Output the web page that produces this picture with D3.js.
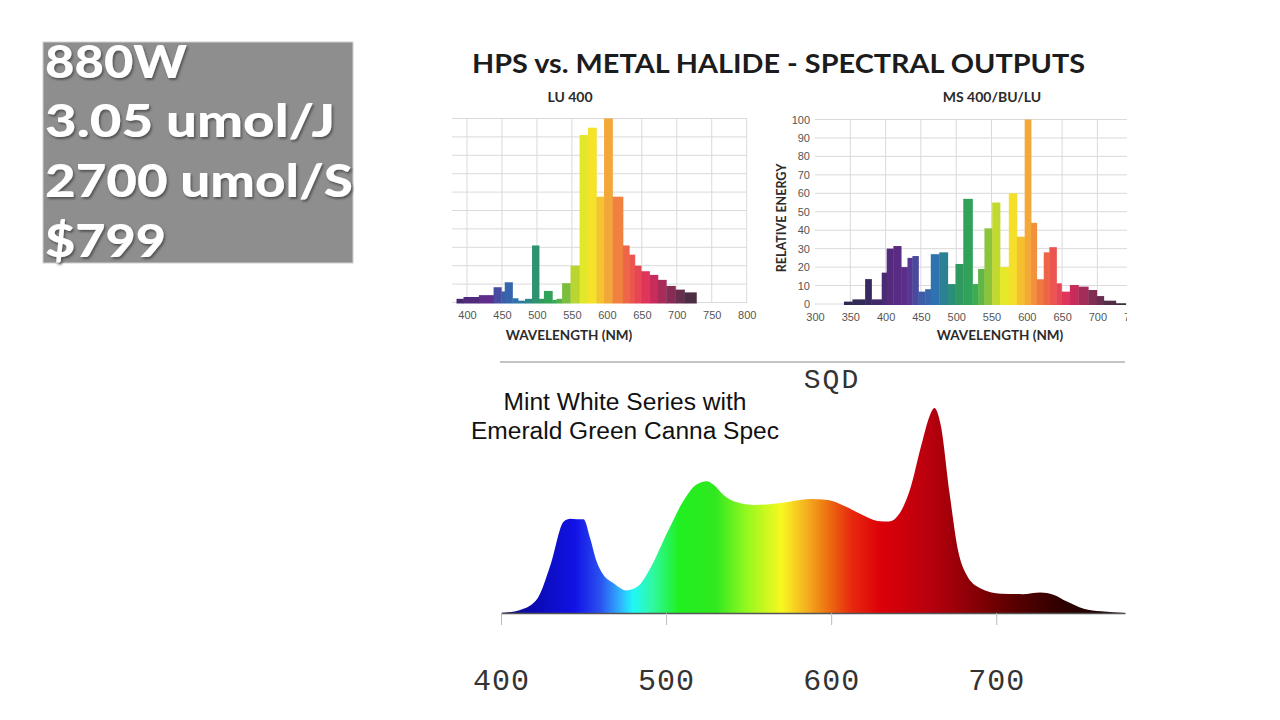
<!DOCTYPE html>
<html>
<head>
<meta charset="utf-8">
<script src="https://cdn.jsdelivr.net/npm/d3@7"></script>
<style>
  html, body { margin: 0; padding: 0; background: #fff; }
  svg { display: block; }
</style>
</head>
<body>
<svg width="1280" height="720"></svg>
<script>
// Spec box lines
const specLines = ["880W", "3.05 umol/J", "2700 umol/S", "$799"];

// LU 400 (HPS) bars: bin edges (nm) and relative energy
const luEdges = [385, 395, 417, 438, 449, 454, 465, 473, 483, 493, 503, 510, 522, 528, 536, 548, 561, 573, 585, 596, 608, 623, 632, 640, 649, 661, 673, 685, 698, 711, 728];
const luValues = [2, 3, 4, 8.3, 6, 11, 2.3, 1, 2, 31, 2, 6.3, 1.4, 2, 10.5, 20, 91, 95, 57.5, 100, 57.5, 31, 26, 20, 17, 15, 12.3, 9, 7, 5.5];
const luTicks = [400, 450, 500, 550, 600, 650, 700, 750, 800];

// MS 400/BU/LU (metal halide) bars
const msEdges = [341, 353, 371, 380, 394.5, 401.5, 411, 422, 431, 438, 446.5, 456, 464, 476, 488, 499, 510, 523, 531, 540, 551, 562, 574.5, 586, 597, 606, 614, 624, 632, 642, 649, 661, 673, 687, 699, 709, 726, 740];
const msValues = [1.3, 2.5, 13.5, 2.5, 17, 30, 31.4, 20, 25, 26, 6.7, 8, 27, 28, 10.8, 21.7, 57, 10.8, 19, 41, 55, 20, 60, 36.5, 100, 44, 13.4, 28, 30.8, 11.2, 6.7, 10.3, 9.4, 7.6, 4.3, 1.8, 0.4];
const msXTicks = [300, 350, 400, 450, 500, 550, 600, 650, 700, 750];
const msYTicks = [0, 10, 20, 30, 40, 50, 60, 70, 80, 90, 100];

// SQD curve (LED), relative intensity
const sqdNm = [400, 412, 422, 430, 438, 442, 446, 450, 454, 458, 462, 468, 476, 483, 490.5, 501, 511.5, 518, 524.7, 528.6, 535, 543, 553.5, 564, 574.5, 587.7, 598, 608.7, 619, 628, 635, 641.5, 648, 654.6, 659.8, 662.5, 666.4, 671.6, 677, 682, 690, 703, 716, 726.8, 734.6, 742.5, 753, 763.5, 778];
const sqdValues = [0, 1.6, 7, 23.5, 44.6, 46, 45.7, 45.7, 36.5, 25, 18.6, 14.6, 11, 13, 21.9, 39.7, 56, 62.4, 64.3, 62.7, 57.5, 54, 52.7, 53.2, 54.3, 55.6, 55.1, 51.9, 47.8, 44.9, 44.6, 48.6, 60.8, 81.8, 96.4, 100, 91.6, 59.2, 30, 18.6, 12.2, 9.4, 9.2, 10, 8.9, 5.7, 2.1, 0.8, 0];
const sqdTicks = [400, 500, 600, 700];

// colour ramps
const barStopNm = [340, 380, 410, 430, 450, 470, 490, 505, 525, 545, 560, 575, 590, 605, 620, 640, 660, 680, 700, 730];
const barStopCol = ["#2a2a4e", "#3a2a62", "#562a80", "#5e2e8c", "#3e5aaa", "#2f72b0", "#2a8a80", "#2f9a5e", "#33a855", "#88c23a", "#d4e02c", "#f5ee28", "#f5c42e", "#f2a03a", "#ef7440", "#ea4e52", "#dc2c5c", "#a42c5a", "#6e2e50", "#3c2c3e"];
const sqdStopNm = [400, 420, 445, 460, 472, 480, 492, 508, 530, 548, 570, 585, 598, 612, 630, 660, 685, 710, 740, 778];
const sqdStopCol = ["#14146e", "#0a0ab4", "#1212e6", "#2a50f0", "#30b0ff", "#20f8f8", "#30f8a0", "#20f020", "#30e820", "#90f820", "#f8f820", "#f4b020", "#ec7010", "#e82a0e", "#dc0008", "#b8000e", "#8a0006", "#5a0000", "#2e0000", "#140404"];

const svg = d3.select("svg");
const barColor = d3.scaleLinear().domain(barStopNm).range(barStopCol).clamp(true);
const labelFont = "Lato, 'Open Sans', sans-serif";
const monoFont = "'Liberation Mono', 'DejaVu Sans Mono', monospace";

// ---------- spec box ----------
const defs = svg.append("defs");
const shadow = defs.append("filter").attr("id", "shadow").attr("x", "-10%").attr("y", "-10%").attr("width", "120%").attr("height", "130%");
shadow.append("feDropShadow").attr("dx", 1.5).attr("dy", 2).attr("stdDeviation", 1.2).attr("flood-color", "#444").attr("flood-opacity", 0.8);

svg.append("rect").attr("x", 43).attr("y", 42).attr("width", 310).attr("height", 221)
    .attr("fill", "#8e8e8e").attr("stroke", "#d0d0d0");
const specWidths = [142, 290, 308, 121];
const specBase = [78, 137, 197, 257];
svg.append("g").selectAll("text").data(specLines).join("text")
    .attr("x", 45).attr("y", (d, i) => specBase[i])
    .attr("textLength", (d, i) => specWidths[i]).attr("lengthAdjust", "spacingAndGlyphs")
    .attr("font-family", labelFont).attr("font-weight", 900).attr("font-size", 46)
    .attr("fill", "#fff").attr("filter", "url(#shadow)")
    .text(d => d);

// ---------- title ----------
svg.append("text").attr("x", 472).attr("y", 73)
    .attr("textLength", 613).attr("lengthAdjust", "spacingAndGlyphs")
    .attr("font-family", labelFont).attr("font-weight", 700).attr("font-size", 27)
    .attr("fill", "#1c1c1c").text("HPS vs. METAL HALIDE - SPECTRAL OUTPUTS");

// ---------- helper for bar charts ----------
function barChart(opt) {
    const g = svg.append("g");
    const x = d3.scaleLinear().domain(opt.xDomain).range(opt.xRange);
    const y = d3.scaleLinear().domain([0, 100]).range(opt.yRange);
    if (opt.clip) {
        defs.append("clipPath").attr("id", opt.clip).append("rect")
            .attr("x", opt.gridX[0] - 40).attr("y", 0).attr("width", opt.gridX[1] - opt.gridX[0] + 40).attr("height", 720);
        g.attr("clip-path", `url(#${opt.clip})`);
    }
    // grid
    g.append("g").selectAll("line").data(d3.range(0, 101, 10)).join("line")
        .attr("x1", opt.gridX[0]).attr("x2", opt.gridX[1])
        .attr("y1", d => y(d)).attr("y2", d => y(d))
        .attr("stroke", "#dadada").attr("stroke-width", 1);
    g.append("g").selectAll("line").data(opt.gridTicks).join("line")
        .attr("x1", d => x(d)).attr("x2", d => x(d))
        .attr("y1", y(100)).attr("y2", y(0))
        .attr("stroke", "#dadada").attr("stroke-width", 1);
    // bars
    const bins = opt.values.map((v, i) => ({ lo: opt.edges[i], hi: opt.edges[i + 1], v }));
    g.append("g").selectAll("rect").data(bins).join("rect")
        .attr("x", d => x(d.lo)).attr("width", d => x(d.hi) - x(d.lo) + 0.4)
        .attr("y", d => y(d.v)).attr("height", d => y(0) - y(d.v) + 1)
        .attr("fill", d => barColor((d.lo + d.hi) / 2));
    // x axis
    const ax = g.append("g").attr("transform", `translate(0,${y(0)})`)
        .call(d3.axisBottom(x).tickValues(opt.xTicks).tickSize(0).tickPadding(9).tickFormat(d3.format("d")));
    ax.select(".domain").remove();
    ax.selectAll("text").attr("font-family", "'Liberation Sans', Arial, sans-serif").attr("font-size", 11).attr("fill", "#555");
    // titles
    svg.append("text").attr("x", opt.titleX).attr("y", 102).attr("text-anchor", "middle")
        .attr("font-family", labelFont).attr("font-weight", 700).attr("font-size", 14).attr("fill", "#2a2a2a")
        .text(opt.title);
    svg.append("text").attr("x", opt.xLabelX).attr("y", 340).attr("text-anchor", "middle")
        .attr("font-family", labelFont).attr("font-weight", 700).attr("font-size", 13.5).attr("fill", "#2a2a2a")
        .text("WAVELENGTH (NM)");
    return { x, y };
}

// LU 400
barChart({
    xDomain: [400, 800], xRange: [467, 746.7], yRange: [302.5, 118.5],
    gridX: [452, 746.7], gridTicks: luTicks, xTicks: luTicks,
    edges: luEdges, values: luValues,
    title: "LU 400", titleX: 570, xLabelX: 569
});

// MS 400/BU/LU
const ms = barChart({
    xDomain: [300, 750], xRange: [815, 1132.7], yRange: [304, 119.5],
    gridX: [815, 1127], gridTicks: msXTicks.slice(1), xTicks: msXTicks,
    edges: msEdges, values: msValues, clip: "msclip",
    title: "MS 400/BU/LU", titleX: 992, xLabelX: 1000
});
const yax = svg.append("g").attr("transform", "translate(815,0)")
    .call(d3.axisLeft(ms.y).tickValues(msYTicks).tickSize(0).tickPadding(5));
yax.select(".domain").remove();
yax.selectAll("text").attr("font-family", "'Liberation Sans', Arial, sans-serif").attr("font-size", 11).attr("fill", "#555");
svg.append("text").attr("transform", "translate(786,218) rotate(-90)").attr("text-anchor", "middle")
    .attr("font-family", labelFont).attr("font-weight", 700).attr("font-size", 12.5).attr("fill", "#2a2a2a")
    .text("RELATIVE ENERGY");

// separator
svg.append("line").attr("x1", 500).attr("x2", 1125).attr("y1", 362).attr("y2", 362)
    .attr("stroke", "#c4c4c4").attr("stroke-width", 2);

// ---------- SQD spectrum ----------
const sx = d3.scaleLinear().domain([400, 778]).range([501, 1125]);
const sy = d3.scaleLinear().domain([0, 100]).range([613, 408]);

const grad = defs.append("linearGradient").attr("id", "spec").attr("gradientUnits", "userSpaceOnUse")
    .attr("x1", sx(400)).attr("x2", sx(778)).attr("y1", 0).attr("y2", 0);
grad.selectAll("stop").data(sqdStopNm).join("stop")
    .attr("offset", d => (d - 400) / (778 - 400))
    .attr("stop-color", (d, i) => sqdStopCol[i]);

const area = d3.area()
    .x((d, i) => sx(sqdNm[i]))
    .y0(sy(0))
    .y1(d => sy(d))
    .curve(d3.curveMonotoneX);
svg.append("path").datum(sqdValues).attr("d", area).attr("fill", "url(#spec)");

const sax = svg.append("g").attr("transform", `translate(0,${sy(0)})`)
    .call(d3.axisBottom(sx).tickValues(sqdTicks).tickSize(12).tickSizeOuter(0).tickPadding(44));
sax.select(".domain").attr("stroke", "#555").attr("stroke-width", 1.5);
sax.selectAll(".tick line").attr("stroke", "#bbb");
sax.selectAll("text").attr("font-family", monoFont)
    .attr("font-size", 30).attr("letter-spacing", 1).attr("fill", "#333");

svg.append("text").attr("x", 832).attr("y", 388).attr("text-anchor", "middle")
    .attr("font-family", monoFont).attr("font-size", 28).attr("letter-spacing", 2).attr("fill", "#333")
    .text("SQD");
svg.append("text").attr("x", 625).attr("y", 410).attr("text-anchor", "middle")
    .attr("textLength", 243).attr("lengthAdjust", "spacingAndGlyphs")
    .attr("font-family", "'Liberation Sans', Arial, sans-serif").attr("font-size", 23.5).attr("fill", "#111")
    .text("Mint White Series with");
svg.append("text").attr("x", 625).attr("y", 439).attr("text-anchor", "middle")
    .attr("textLength", 308).attr("lengthAdjust", "spacingAndGlyphs")
    .attr("font-family", "'Liberation Sans', Arial, sans-serif").attr("font-size", 23.5).attr("fill", "#111")
    .text("Emerald Green Canna Spec");
</script>
</body>
</html>
